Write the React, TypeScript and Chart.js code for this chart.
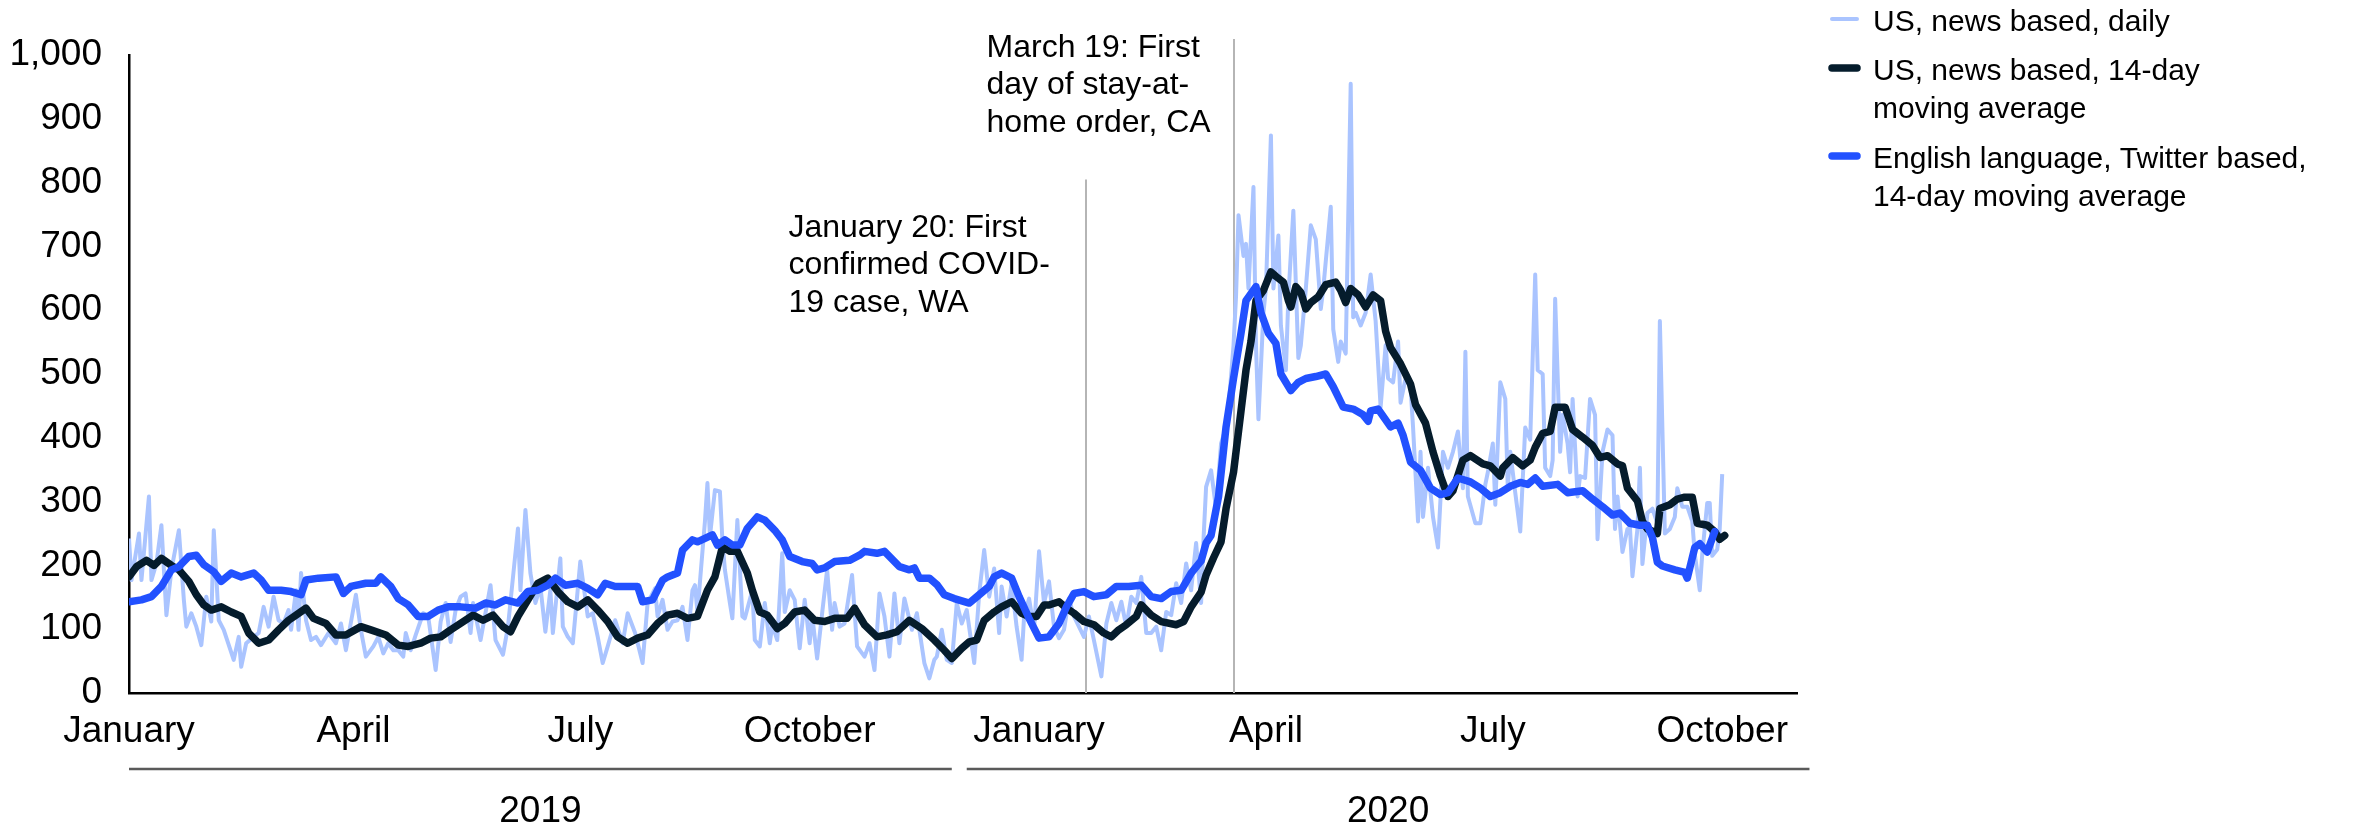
import React, { useEffect, useRef } from "react";
import { Chart, registerables } from "chart.js";

Chart.register(...registerables);

const FONT = "'Liberation Sans', Arial, Helvetica, sans-serif";
Chart.defaults.font.family = FONT;
Chart.defaults.color = "#000";

// ---- text / labels ----
const seriesLabels = [
  "US, news based, daily",
  "US, news based, 14-day moving average",
  "English language, Twitter based, 14-day moving average",
];
const legendLines = [
  ["US, news based, daily"],
  ["US, news based, 14-day", "moving average"],
  ["English language, Twitter based,", "14-day moving average"],
];
const seriesColors = ["#aac4ff", "#051c2c", "#2251ff"];

// x = days since 1 January 2019
const monthTickDays = [0, 90, 181, 273, 365, 456, 547, 639];
const monthTickLabels = ["January", "April", "July", "October", "January", "April", "July", "October"];
const yearLabels = ["2019", "2020"];
const yearSpans = [
  [0, 330],
  [336, 674],
];

const eventDays = [384, 443];
const eventLineTops = [805, 1025];
const eventTexts = [
  ["January 20: First", "confirmed COVID-", "19 case, WA"],
  ["March 19: First", "day of stay-at-", "home order, CA"],
];

// ---- series: [day, value] ----
const usDaily: [number, number][] = [
  [0,242],[1,177],[4,250],[5,177],[8,308],[9,177],[11,203],[13,263],[15,122],[17,193],[20,255],[22,146],[23,104],[25,125],[27,104],[29,75],[31,151],[33,112],[34,255],[36,114],[38,99],[42,52],[44,88],[45,41],[47,78],[50,88],[52,94],[54,135],[56,104],[58,151],[60,114],[62,109],[64,130],[65,99],[67,161],[68,99],[69,188],[71,114],[73,83],[75,88],[77,75],[80,94],[83,78],[85,109],[87,67],[91,154],[93,99],[95,57],[98,73],[100,88],[102,62],[104,78],[106,67],[108,67],[110,57],[111,94],[113,67],[115,91],[118,125],[120,120],[123,36],[125,112],[127,141],[129,80],[131,130],[133,151],[135,156],[137,94],[138,141],[141,83],[145,169],[147,83],[150,60],[152,104],[156,258],[157,161],[159,287],[161,188],[163,141],[165,167],[167,96],[169,161],[170,94],[173,211],[174,104],[176,88],[178,78],[181,206],[184,120],[186,125],[188,88],[190,47],[192,73],[195,114],[198,78],[200,125],[203,94],[206,47],[208,141],[211,164],[212,120],[214,146],[216,99],[218,112],[220,114],[222,135],[224,83],[226,161],[227,169],[228,127],[231,269],[232,329],[233,245],[235,318],[237,316],[238,240],[239,193],[241,141],[242,117],[244,271],[246,120],[247,117],[250,161],[251,83],[253,73],[255,141],[257,78],[258,107],[260,83],[262,219],[263,127],[265,161],[267,146],[269,70],[271,146],[273,78],[274,122],[276,54],[278,125],[280,193],[282,99],[283,141],[285,104],[287,109],[290,185],[292,73],[295,57],[297,78],[299,36],[301,156],[303,120],[305,57],[307,156],[309,78],[311,148],[314,99],[316,125],[319,47],[321,23],[323,52],[324,57],[326,99],[328,52],[330,47],[332,141],[334,109],[336,130],[339,47],[341,156],[343,224],[345,151],[347,195],[349,94],[350,167],[352,120],[354,172],[356,104],[358,52],[359,120],[361,148],[363,99],[365,222],[367,141],[369,175],[371,104],[373,86],[375,99],[377,148],[379,120],[381,104],[383,88],[385,120],[387,83],[390,26],[392,109],[394,141],[396,114],[398,143],[400,104],[402,151],[404,141],[406,182],[408,94],[410,94],[412,104],[414,67],[416,127],[418,122],[420,172],[422,141],[424,203],[426,161],[428,235],[429,188],[430,141],[431,244],[432,323],[434,349],[436,289],[438,391],[440,417],[441,448],[443,545],[444,621],[445,749],[447,685],[448,704],[449,634],[451,793],[452,545],[453,429],[455,596],[456,634],[458,874],[459,634],[461,717],[462,576],[464,506],[465,621],[467,756],[469,525],[470,545],[472,634],[474,733],[476,711],[478,602],[479,634],[482,762],[483,570],[485,519],[486,551],[488,532],[490,955],[491,589],[492,596],[494,576],[496,596],[498,656],[500,583],[502,448],[504,545],[505,493],[507,487],[509,551],[510,455],[512,493],[514,480],[515,417],[517,269],[518,378],[519,276],[521,353],[523,276],[525,228],[527,378],[529,353],[531,378],[533,410],[535,321],[536,535],[537,308],[540,266],[542,266],[544,327],[545,346],[547,391],[548,295],[550,487],[552,461],[553,321],[554,378],[556,314],[558,253],[560,416],[562,397],[564,656],[565,506],[567,500],[568,353],[570,340],[571,365],[572,618],[574,378],[575,436],[577,391],[578,346],[579,461],[581,308],[582,340],[584,337],[586,461],[588,436],[589,241],[591,378],[593,413],[595,404],[596,257],[597,308],[599,221],[601,257],[602,260],[603,183],[605,257],[606,353],[607,202],[609,282],[611,289],[613,266],[614,583],[616,250],[618,257],[620,276],[621,321],[623,292],[625,292],[627,269],[628,218],[630,161],[631,218],[633,298],[634,298],[635,215],[637,225],[638,257],[639,343],
];

const usMovingAvg: [number, number][] = [
  [0,182],[3,198],[7,208],[10,200],[13,211],[17,200],[20,193],[24,175],[27,154],[30,138],[33,130],[37,135],[41,127],[45,120],[48,94],[52,78],[56,83],[60,99],[64,114],[67,122],[71,133],[74,117],[79,109],[83,91],[87,91],[93,104],[97,99],[103,91],[108,75],[112,73],[117,78],[121,86],[125,88],[129,99],[133,109],[138,122],[142,114],[146,122],[150,104],[153,96],[156,120],[160,146],[164,172],[168,180],[172,159],[176,143],[180,135],[184,146],[188,130],[192,112],[196,88],[200,78],[204,86],[208,91],[212,109],[216,122],[220,125],[224,117],[228,120],[232,161],[235,182],[238,229],[241,222],[244,222],[248,188],[250,161],[253,127],[256,122],[260,101],[263,109],[267,127],[271,130],[275,114],[279,112],[283,117],[288,117],[291,133],[295,107],[300,88],[304,91],[308,96],[313,114],[318,101],[323,83],[327,67],[330,54],[334,70],[337,80],[340,83],[343,114],[347,127],[350,135],[354,143],[358,125],[361,120],[364,120],[367,138],[369,138],[373,143],[376,133],[379,125],[383,112],[387,107],[391,94],[394,88],[397,99],[400,107],[404,120],[406,138],[410,122],[414,112],[420,107],[423,112],[426,135],[430,158],[432,185],[435,212],[438,237],[440,289],[443,346],[446,442],[448,506],[450,551],[452,615],[455,631],[458,660],[460,653],[463,644],[465,615],[466,605],[468,637],[470,628],[472,602],[474,612],[477,621],[480,640],[484,644],[486,631],[488,612],[490,634],[493,624],[496,605],[499,624],[502,615],[504,567],[506,541],[510,516],[514,484],[516,452],[520,423],[523,378],[526,340],[529,308],[531,317],[535,365],[538,372],[543,359],[546,356],[550,340],[551,353],[555,369],[559,356],[562,365],[564,385],[567,407],[570,410],[572,448],[576,448],[579,413],[583,401],[587,388],[590,369],[593,372],[597,359],[599,356],[601,321],[605,301],[607,269],[609,257],[613,250],[614,289],[618,295],[621,304],[624,307],[627,307],[629,266],[633,263],[636,253],[638,241],[640,247],
];

const twitterMovingAvg: [number, number][] = [
  [0,143],[5,146],[9,151],[13,167],[17,193],[20,198],[24,214],[27,216],[30,201],[34,190],[37,175],[41,188],[45,182],[50,188],[53,177],[56,161],[61,161],[65,159],[69,154],[71,177],[76,180],[83,182],[86,156],[89,167],[95,172],[99,172],[101,182],[105,167],[108,148],[112,138],[116,120],[120,120],[124,130],[128,135],[133,135],[139,133],[143,141],[147,138],[151,146],[156,141],[160,159],[164,161],[168,169],[171,180],[175,169],[180,172],[184,164],[188,154],[191,172],[195,167],[200,167],[204,167],[206,143],[210,146],[214,177],[216,182],[220,188],[222,224],[226,240],[228,237],[234,248],[236,232],[239,240],[242,232],[245,232],[248,258],[252,276],[255,271],[259,255],[262,240],[265,214],[270,206],[274,203],[276,193],[279,196],[283,206],[289,208],[293,216],[295,222],[300,219],[303,222],[309,198],[313,193],[315,196],[317,180],[321,180],[324,170],[327,154],[331,148],[337,141],[341,154],[345,167],[347,182],[350,188],[354,180],[357,151],[361,117],[365,86],[369,88],[373,109],[376,135],[379,156],[383,159],[387,151],[392,154],[396,167],[401,167],[406,169],[410,151],[414,148],[418,159],[422,161],[426,188],[430,207],[432,235],[434,247],[437,308],[440,417],[443,493],[446,564],[448,615],[452,637],[454,596],[457,564],[460,548],[462,500],[466,474],[469,487],[472,493],[476,496],[480,500],[483,480],[487,448],[491,445],[495,436],[497,426],[498,442],[501,445],[506,417],[509,423],[511,404],[514,362],[518,349],[522,321],[526,311],[529,314],[533,337],[538,331],[542,321],[546,308],[550,314],[554,324],[558,330],[561,327],[564,337],[567,324],[573,327],[577,314],[583,317],[587,304],[591,292],[595,279],[598,282],[602,266],[606,263],[609,263],[611,244],[613,205],[615,199],[620,193],[624,189],[625,180],[628,228],[630,234],[633,221],[636,253],
];

const toPoints = (arr: [number, number][]) => arr.map(([x, y]) => ({ x, y }));

const overlayPlugin = {
  id: "overlay",
  beforeDatasetsDraw(chart: any) {
    const { ctx, scales } = chart;
    const x = scales.x;
    const y = scales.y;
    ctx.save();
    ctx.strokeStyle = "#b5b5b5";
    ctx.lineWidth = 2;
    eventDays.forEach((d, i) => {
      const px = Math.round(x.getPixelForValue(d));
      ctx.beginPath();
      ctx.moveTo(px, y.getPixelForValue(0));
      ctx.lineTo(px, y.getPixelForValue(eventLineTops[i]));
      ctx.stroke();
    });
    ctx.restore();
  },
  afterDraw(chart: any) {
    const { ctx, scales, chartArea } = chart;
    const x = scales.x;
    ctx.save();
    // event annotations
    ctx.fillStyle = "#000";
    ctx.font = `32px ${FONT}`;
    ctx.textAlign = "left";
    ctx.textBaseline = "middle";
    const textOffsets = [298, 247];
    const textTops = [chartArea.top + 173, chartArea.top - 7];
    eventTexts.forEach((lines, i) => {
      const px = x.getPixelForValue(eventDays[i]) - textOffsets[i];
      lines.forEach((t, j) => ctx.fillText(t, px, textTops[i] + j * 37.5));
    });
    // year groups
    ctx.strokeStyle = "#5a5a5a";
    ctx.lineWidth = 2.5;
    ctx.font = `37px ${FONT}`;
    ctx.textAlign = "center";
    yearLabels.forEach((lab, i) => {
      const a = x.getPixelForValue(yearSpans[i][0]);
      const b = x.getPixelForValue(yearSpans[i][1]);
      const ly = chartArea.bottom + 76;
      ctx.beginPath();
      ctx.moveTo(a, ly);
      ctx.lineTo(b, ly);
      ctx.stroke();
      ctx.fillText(lab, (a + b) / 2, chartArea.bottom + 119);
    });
    // legend
    const lx = chartArea.right + 33;
    const itemTops = [23, 72, 160];
    const widths = [4, 7.5, 7.5];
    ctx.font = `30px ${FONT}`;
    ctx.textAlign = "left";
    ctx.lineCap = "round";
    legendLines.forEach((lines, i) => {
      ctx.strokeStyle = seriesColors[i];
      ctx.lineWidth = widths[i];
      ctx.beginPath();
      ctx.moveTo(lx + 2, itemTops[i] - 4);
      ctx.lineTo(lx + 27, itemTops[i] - 4);
      ctx.stroke();
      lines.forEach((t, j) => ctx.fillText(t, lx + 43, itemTops[i] + j * 38));
    });
    ctx.restore();
  },
};

export default function App() {
  const ref = useRef<HTMLCanvasElement>(null);
  useEffect(() => {
    if (!ref.current) return;
    const chart = new Chart(ref.current, {
      type: "line",
      data: {
        datasets: [
          {
            label: seriesLabels[0],
            data: toPoints(usDaily),
            borderColor: seriesColors[0],
            borderWidth: 4,
            pointRadius: 0,
            tension: 0,
            order: 3,
            borderJoinStyle: "round",
          },
          {
            label: seriesLabels[1],
            data: toPoints(usMovingAvg),
            borderColor: seriesColors[1],
            borderWidth: 7.5,
            pointRadius: 0,
            tension: 0,
            order: 2,
            borderJoinStyle: "round",
            borderCapStyle: "round",
          },
          {
            label: seriesLabels[2],
            data: toPoints(twitterMovingAvg),
            borderColor: seriesColors[2],
            borderWidth: 7.5,
            pointRadius: 0,
            tension: 0,
            order: 1,
            borderJoinStyle: "round",
            borderCapStyle: "round",
          },
        ],
      },
      options: {
        animation: false,
        responsive: false,
        events: [],
        layout: { padding: { left: 0, top: 55, right: 562, bottom: 0 } },
        plugins: { legend: { display: false }, tooltip: { enabled: false } },
        scales: {
          x: {
            type: "linear",
            min: 0,
            max: 669,
            afterBuildTicks: (scale: any) => {
              scale.ticks = monthTickDays.map((v) => ({ value: v }));
            },
            afterFit: (scale: any) => {
              scale.height = 134;
            },
            ticks: {
              autoSkip: false,
              maxRotation: 0,
              padding: 17,
              font: { size: 37 },
              color: "#000",
              callback: (v: any) => {
                const i = monthTickDays.indexOf(Number(v));
                return i >= 0 ? monthTickLabels[i] : "";
              },
            },
            grid: { display: true, drawOnChartArea: false, drawTicks: false, color: "rgba(0,0,0,0)" },
            border: { display: true, color: "#000", width: 2.5 },
          },
          y: {
            min: 0,
            max: 1000,
            afterFit: (scale: any) => {
              scale.width = 129;
            },
            ticks: {
              stepSize: 100,
              padding: 27,
              font: { size: 37 },
              color: "#000",
              callback: (v: any) => Number(v).toLocaleString("en-US"),
            },
            grid: { display: true, drawOnChartArea: false, drawTicks: false, color: "rgba(0,0,0,0)" },
            border: { display: true, color: "#000", width: 2.5 },
          },
        },
      },
      plugins: [overlayPlugin],
    } as any);
    return () => chart.destroy();
  }, []);
  return (
    <div style={{ position: "absolute", left: 0, top: 0, width: 2359, height: 827, background: "#fff" }}>
      <canvas ref={ref} width={2359} height={827} style={{ display: "block", width: 2359, height: 827 }} />
    </div>
  );
}
